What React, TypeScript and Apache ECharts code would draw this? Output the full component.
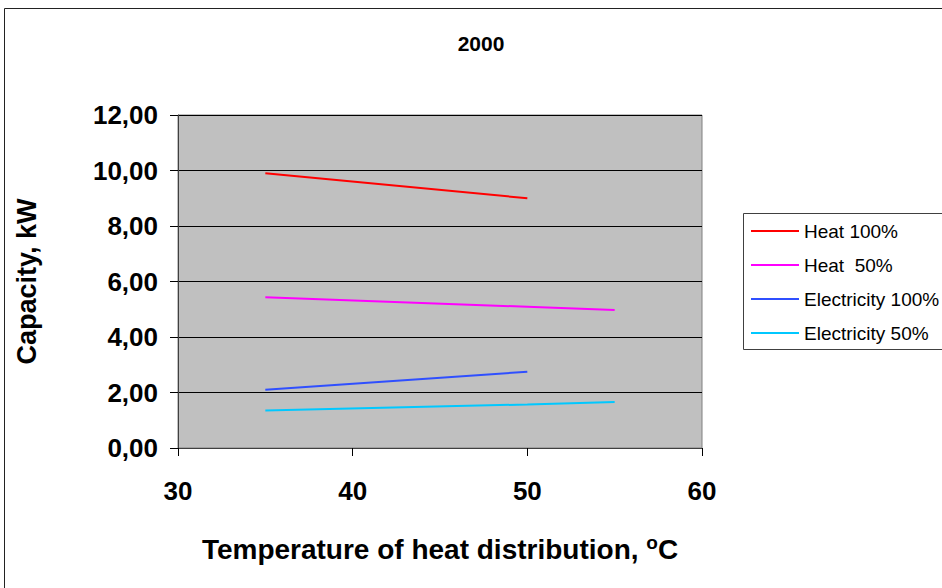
import React, { useEffect, useRef } from "react";
import * as echarts from "echarts";

// Heat-pump capacity vs. distribution temperature, year 2000
const temperatures = [35, 50, 55];
const heat100 = [9.9, 9.0];
const heat50 = [5.43, 5.09, 4.97];
const elec100 = [2.1, 2.75];
const elec50 = [1.35, 1.57, 1.66];

const seriesNames = ["Heat 100%", "Heat  50%", "Electricity 100%", "Electricity 50%"];
const seriesColors = ["#ff0000", "#ff00ff", "#2f4fff", "#00c8ff"];
const seriesValues = [heat100, heat50, elec100, elec50];

const FONT = "'Liberation Sans', Arial, sans-serif";

export default function App() {
  const ref = useRef<HTMLDivElement>(null);

  useEffect(() => {
    document.body.style.margin = "0";
    if (!ref.current) return;
    const chart = echarts.init(ref.current, null, { renderer: "svg" });
    chart.setOption({
      animation: false,
      backgroundColor: "#ffffff",
      textStyle: { fontFamily: FONT },
      title: {
        text: "2000",
        left: 476,
        top: 28,
        textAlign: "center",
        textStyle: { fontSize: 21, fontWeight: "bold", color: "#000", fontFamily: FONT },
      },
      grid: {
        left: 178,
        top: 115,
        width: 524,
        height: 333,
        show: true,
        backgroundColor: "#c0c0c0",
        borderColor: "#808080",
        borderWidth: 1,
      },
      legend: {
        orient: "vertical",
        left: 746,
        top: 216,
        icon: "rect",
        itemWidth: 48,
        itemHeight: 2,
        itemGap: 14,
        data: seriesNames,
        textStyle: {
          fontSize: 19,
          lineHeight: 20,
          color: "#000",
          fontFamily: FONT,
          padding: [0, 0, 0, 0],
        },
      },
      xAxis: {
        type: "value",
        min: 30,
        max: 60,
        interval: 10,
        name: "Temperature of heat distribution, {sup|o}C",
        nameLocation: "middle",
        nameGap: 85,
        nameTextStyle: {
          fontSize: 28,
          fontWeight: "bold",
          color: "#000",
          fontFamily: FONT,
          rich: {
            sup: {
              fontSize: 19,
              fontWeight: "bold",
              verticalAlign: "top",
              padding: [0, 0, 14, 0],
              fontFamily: FONT,
            },
          },
        },
        axisLine: { show: true, lineStyle: { color: "#404040", width: 1 } },
        axisTick: { show: true, length: 8, lineStyle: { color: "#000" } },
        axisLabel: { fontSize: 26, fontWeight: "bold", color: "#000", margin: 30, fontFamily: FONT },
        splitLine: { show: false },
      },
      yAxis: {
        type: "value",
        min: 0,
        max: 12,
        interval: 2,
        name: "Capacity, kW",
        nameLocation: "middle",
        nameGap: 138,
        nameTextStyle: { fontSize: 27, fontWeight: "bold", color: "#000", fontFamily: FONT },
        axisLine: { show: true, lineStyle: { color: "#404040", width: 1 } },
        axisTick: { show: true, length: 8, lineStyle: { color: "#000" } },
        axisLabel: {
          fontSize: 26,
          fontWeight: "bold",
          color: "#000",
          margin: 20,
          fontFamily: FONT,
          formatter: (v: number) => v.toFixed(2).replace(".", ","),
        },
        splitLine: { show: true, lineStyle: { color: "#000", width: 1 } },
      },
      graphic: [
        {
          type: "rect",
          shape: { x: 4.5, y: 8.5, width: 1000, height: 1000 },
          style: { fill: "none", stroke: "#222", lineWidth: 1 },
          silent: true,
        },
        {
          type: "rect",
          shape: { x: 743.5, y: 213.5, width: 300, height: 136 },
          style: { fill: "#ffffff", stroke: "#404040", lineWidth: 1 },
          silent: true,
          z: -1,
        },
      ],
      series: seriesNames.map((name, i) => ({
        name,
        type: "line",
        data: seriesValues[i].map((v, j) => [temperatures[j], v]),
        symbol: "none",
        showSymbol: false,
        lineStyle: { color: seriesColors[i], width: 2 },
        itemStyle: { color: seriesColors[i] },
      })),
    });
    return () => chart.dispose();
  }, []);

  return <div ref={ref} style={{ width: 942, height: 588 }} />;
}
